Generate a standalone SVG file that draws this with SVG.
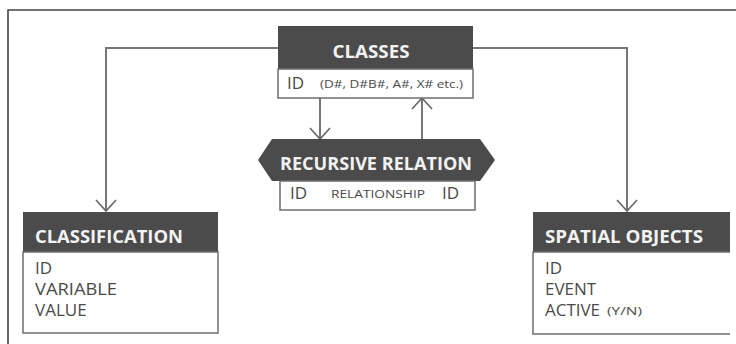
<svg xmlns="http://www.w3.org/2000/svg" width="736" height="344" viewBox="0 0 736 344">
<style>
.hdr{fill:#4b4b4b}
.body{fill:#fff;stroke:#6e6e6e;stroke-width:1.5}
.ht{font-family:"Open Sans","Noto Sans",sans-serif;font-weight:bold;font-size:18px;fill:#f2f2f2}
.t{font-family:"Open Sans","Noto Sans",sans-serif;font-size:17px;fill:#4a4a4a}
.s{font-family:"Open Sans","Noto Sans",sans-serif;font-size:11px;fill:#4a4a4a}
.c{fill:none;stroke:#767676;stroke-width:2}
</style>
<defs>
<marker id="arr" viewBox="-12 -11 14 22" refX="0" refY="0" markerWidth="14" markerHeight="22" markerUnits="userSpaceOnUse" orient="auto">
<path d="M-11,-10 L0,0 L-11,10" fill="none" stroke="#666" stroke-width="1.6"/>
</marker>
</defs>
<rect width="736" height="344" fill="#fff"/>
<path d="M8,344 V10 H736" fill="none" stroke="#444" stroke-width="1.6"/>
<g id="connectors">
<polyline class="c" points="278,48 106,48 106,211" marker-end="url(#arr)"/>
<polyline class="c" points="473,48 627,48 627,211" marker-end="url(#arr)"/>
<line class="c" x1="320" y1="98" x2="320" y2="139" marker-end="url(#arr)"/>
<line class="c" x1="422" y1="139" x2="422" y2="98" marker-end="url(#arr)"/>
</g>
<g id="classes">
<rect class="hdr" x="278" y="26" width="195" height="43"/>
<rect class="body" x="278" y="69" width="195" height="29"/>
<text class="ht" x="371" y="58" text-anchor="middle" textLength="77" lengthAdjust="spacingAndGlyphs">CLASSES</text>
<text class="t" x="287" y="89" font-size="18">ID</text>
<text class="s" x="320" y="88" textLength="143" lengthAdjust="spacingAndGlyphs">(D#, D#B#, A#, X# etc.)</text>
</g>
<g id="recursive-relation">
<polygon class="hdr" points="258,160 272,139 480,139 495,160 480,181 272,181"/>
<rect class="body" x="280" y="181" width="195" height="29"/>
<text class="ht" x="376" y="170" text-anchor="middle" textLength="192" lengthAdjust="spacingAndGlyphs">RECURSIVE RELATION</text>
<text class="t" x="290" y="199">ID</text>
<text class="s" x="331" y="198" textLength="94" lengthAdjust="spacingAndGlyphs">RELATIONSHIP</text>
<text class="t" x="442" y="199">ID</text>
</g>
<g id="classification">
<rect class="hdr" x="23" y="212" width="195" height="40"/>
<rect class="body" x="23" y="252" width="195" height="81"/>
<text class="ht" x="35" y="243" textLength="148" lengthAdjust="spacingAndGlyphs">CLASSIFICATION</text>
<text class="t" x="35" y="274">ID</text>
<text class="t" x="35" y="295" textLength="82" lengthAdjust="spacingAndGlyphs">VARIABLE</text>
<text class="t" x="35" y="316">VALUE</text>
</g>
<g id="spatial-objects">
<rect class="hdr" x="533" y="212" width="197" height="40"/>
<path class="body" d="M730,252 H533 V334 H730"/>
<text class="ht" x="545" y="243" textLength="158" lengthAdjust="spacingAndGlyphs">SPATIAL OBJECTS</text>
<text class="t" x="545" y="274">ID</text>
<text class="t" x="545" y="295">EVENT</text>
<text class="t" x="545" y="316" textLength="55" lengthAdjust="spacingAndGlyphs">ACTIVE</text>
<text class="s" x="607" y="315" textLength="35" lengthAdjust="spacingAndGlyphs">(Y/N)</text>
</g>
</svg>
